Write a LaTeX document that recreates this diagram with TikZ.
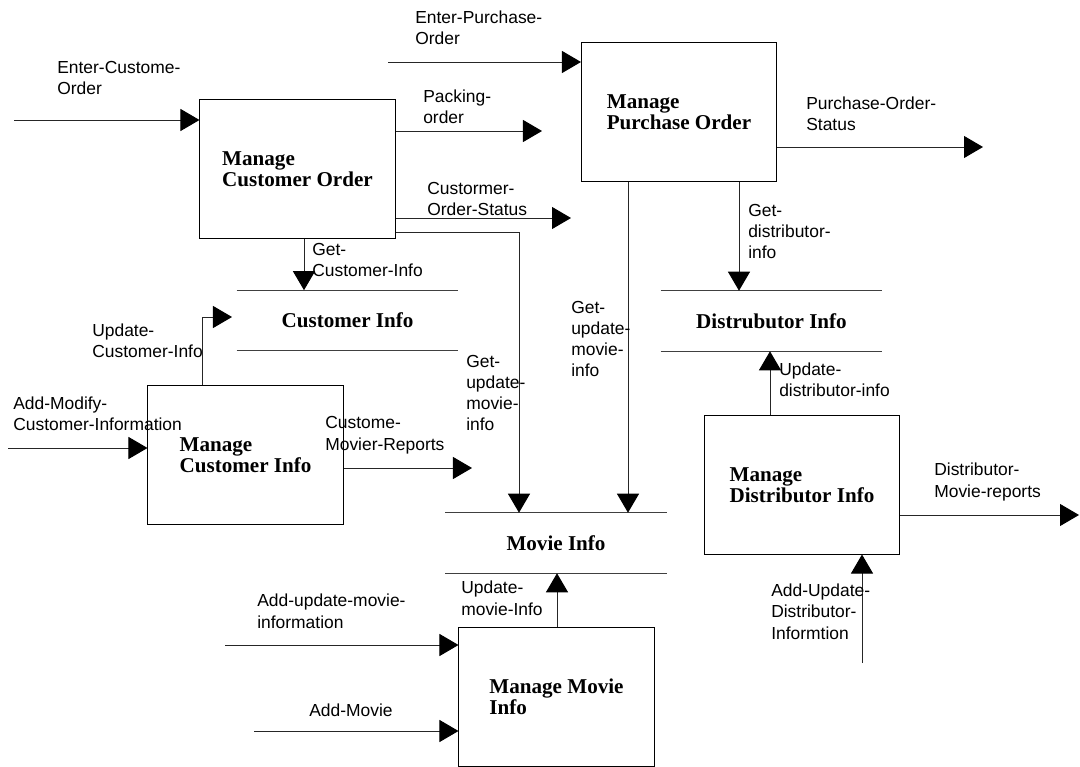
\documentclass[tikz,border=0pt]{standalone}
\usepackage{fontspec}
\setmainfont{Liberation Serif}
\setsansfont{Liberation Sans}
\usetikzlibrary{arrows.meta,positioning}

\tikzset{
  procbox/.style={draw, line width=0.7pt, minimum width=4.875cm, minimum height=3.45cm,
    align=left, font=\bfseries\fontsize{15}{15}\selectfont},
  store/.style={minimum width=5.525cm, minimum height=1.5cm,
    font=\bfseries\fontsize{15}{15}\selectfont,
    append after command={(\tikzlastnode.north west) edge[line width=0.7pt, black!75] (\tikzlastnode.north east)
      (\tikzlastnode.south west) edge[line width=0.7pt, black!75] (\tikzlastnode.south east)}},
  flow/.style={line width=0.7pt, black!85, -{Triangle[length=0.475cm, width=0.55cm, black]}},
  lbl/.style={anchor=base west, align=left, inner sep=0pt,
    font=\sffamily\fontsize{12.4}{15}\selectfont}
}

\begin{document}
\begin{tikzpicture}[x=0.025cm, y=-0.025cm]
    \useasboundingbox (0,0) rectangle (1080,767);

    % Processes
    \node[procbox] (mco) at (297.5,169) {Manage\\Customer Order};
    \node[procbox] (mpo) at (679,112) {Manage\\Purchase Order};
    \node[procbox] (mci) at (245.5,455) {Manage\\Customer Info};
    \node[procbox] (mdi) at (802,485) {Manage\\Distributor Info};
    \node[procbox] (mmi) at (556.5,697) {Manage Movie\\Info};

    % Data stores
    \node[store] (ci) at (347.5,320.5) {Customer Info};
    \node[store] (di) at (771.5,321) {Distrubutor Info};
    \node[store] (mi) at (556,543) {Movie Info};

    % Free ends of the flows
    \coordinate (eco) at (14,120);
    \coordinate (epo) at (388,62);
    \coordinate (pko) at (542,131);
    \coordinate (cos) at (571,218);
    \coordinate (gum) at (519,232);
    \coordinate (gci) at (304,0);
    \coordinate (uci) at (232,317);
    \coordinate (ucx) at (202,0);
    \coordinate (amc) at (8,448);
    \coordinate (cmr) at (472,468);
    \coordinate (gmp) at (628,0);
    \coordinate (gdi) at (739,0);
    \coordinate (pos) at (983,147);
    \coordinate (udi) at (770,0);
    \coordinate (dmr) at (1079,515);
    \coordinate (aud) at (862,663);
    \coordinate (umi) at (557,0);
    \coordinate (aum) at (225,645);
    \coordinate (amv) at (254,731);

    % Flows
    \draw[flow] (eco) -- (mco.west |- eco);
    \draw[flow] (epo) -- (mpo.west |- epo);
    \draw[flow] (mco.east |- pko) -- (pko);
    \draw[flow] (mco.east |- cos) -- (cos);
    \draw[flow] (mco.east |- gum) -| (mi.north -| gum);
    \draw[flow] (mco.south -| gci) -- (ci.north -| gci);
    \draw[flow] (mci.north -| ucx) |- (uci);
    \draw[flow] (amc) -- (mci.west |- amc);
    \draw[flow] (mci.east |- cmr) -- (cmr);
    \draw[flow] (mpo.south -| gmp) -- (mi.north -| gmp);
    \draw[flow] (mpo.south -| gdi) -- (di.north -| gdi);
    \draw[flow] (mpo.east |- pos) -- (pos);
    \draw[flow] (mdi.north -| udi) -- (di.south -| udi);
    \draw[flow] (mdi.east |- dmr) -- (dmr);
    \draw[flow] (aud) -- (mdi.south -| aud);
    \draw[flow] (mmi.north -| umi) -- (mi.south -| umi);
    \draw[flow] (aum) -- (mmi.west |- aum);
    \draw[flow] (amv) -- (mmi.west |- amv);

    % Flow labels (placed by the baseline of their last line)
    \node[lbl] (l-epo) at (415,45) {Enter-Purchase-\\Order};
    \node[lbl] (l-eco) at (57,95) {Enter-Custome-\\Order};
    \node[lbl] (l-pko) at (423,124) {Packing-\\order};
    \node[lbl] (l-pos) at (806,131) {Purchase-Order-\\Status};
    \node[lbl] (l-cos) at (427,216) {Custormer-\\Order-Status};
    \node[lbl] (l-gci) at (312,277) {Get-\\Customer-Info};
    \node[lbl] (l-gdi) at (748,259) {Get-\\distributor-\\info};
    \node[lbl] (l-uci) at (92,358) {Update-\\Customer-Info};
    \node[lbl] (l-gmp) at (571,377) {Get-\\update-\\movie-\\info};
    \node[lbl] (l-gum) at (466,431) {Get-\\update-\\movie-\\info};
    \node[lbl] (l-udi) at (779,397) {Update-\\distributor-info};
    \node[lbl] (l-amc) at (13,431) {Add-Modify-\\Customer-Information};
    \node[lbl] (l-cmr) at (325,450) {Custome-\\Movier-Reports};
    \node[lbl] (l-dmr) at (934,497) {Distributor-\\Movie-reports};
    \node[lbl] (l-umi) at (461,615) {Update-\\movie-Info};
    \node[lbl] (l-aum) at (257,628) {Add-update-movie-\\information};
    \node[lbl] (l-aud) at (771,639) {Add-Update-\\Distributor-\\Informtion};
    \node[lbl] (l-amv) at (309,716) {Add-Movie};
\end{tikzpicture}
\end{document}
